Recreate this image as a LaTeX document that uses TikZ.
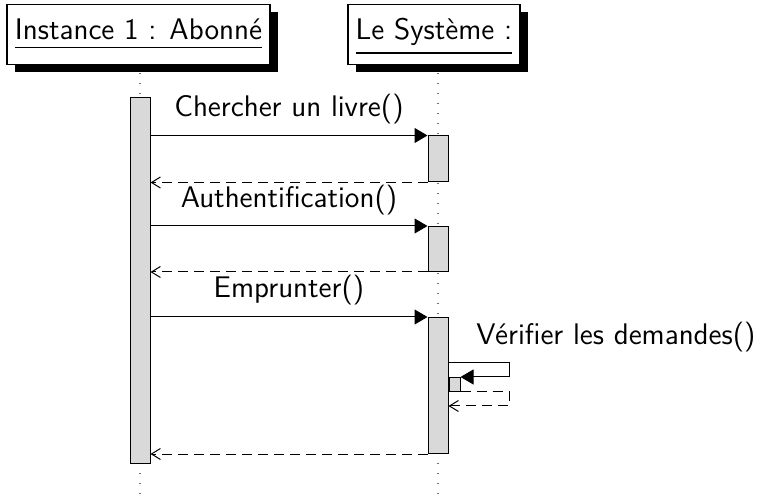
\documentclass[tikz,border=0pt]{standalone}
\usepackage{fontspec}
\usetikzlibrary{arrows.meta,shadows}
% underlined object name, rule set a little below the text
\newcommand{\objname}[1]{\vtop{\hbox{#1}\kern3.2pt\hrule height 0.9pt}}
\begin{document}
\begin{tikzpicture}[x=0.5pt,y=-0.5pt,
  font=\sffamily\fontsize{14.9}{18}\selectfont,
  obj/.style={draw=black, line width=0.6pt, fill=white, minimum height=30pt,
    text height=10pt, text depth=4.5pt, inner sep=0pt,
    drop shadow={shadow xshift=3.75pt, shadow yshift=-3.75pt, fill=black, opacity=1}},
  life/.style={draw=black!55, line width=0.6pt, dash pattern=on 0.6pt off 4.4pt},
  act/.style={draw=black, fill=black!15, line width=0.5pt, minimum width=10pt,
    inner sep=0pt, anchor=north},
  call/.style={line width=0.5pt, -{Triangle[length=6.5pt,width=7.5pt]}},
  reply/.style={line width=0.5pt, dash pattern=on 5pt off 3pt,
    -{Straight Barb[length=4.5pt,width=5.5pt,line width=0.5pt]}},
  msg/.style={anchor=base, inner sep=0pt}]
\useasboundingbox (0,0) rectangle (760,496);

% lifelines
\coordinate (top1) at (140,73);
\coordinate (bot1) at (140,496);
\coordinate (top2) at (438,73);
\coordinate (bot2) at (438,496);
\draw[life] (top1) -- (bot1);
\draw[life] (top2) -- (bot2);

% objects
\node[obj, minimum width=131.5pt] (abonne) at (138.5,34.5) {\objname{Instance 1 : Abonné}};
\node[obj, minimum width=86pt] (systeme) at (434,34.5) {\objname{Le Système :}};

% activation bars
\node[act, minimum height=183pt] (bar1) at (140,97) {};
\node[act, minimum height=23pt] (barA) at (438,135.5) {};
\node[act, minimum height=22.5pt] (barB) at (438,226) {};
\node[act, minimum height=68pt] (barC) at (438,317) {};
\node[act, minimum width=5.5pt, minimum height=7pt] (self) at (454.5,377) {};

% messages
\node[msg] (m1) at (289,117) {Chercher un livre()};
\draw[call] (bar1.east |- barA.north west) -- (barA.north west);
\draw[reply] (barA.south west) -- (bar1.east |- barA.south west);

\node[msg] (m2) at (289,207.5) {Authentification()};
\draw[call] (bar1.east |- barB.north west) -- (barB.north west);
\draw[reply] (barB.south west) -- (bar1.east |- barB.south west);

\node[msg] (m3) at (289,298) {Emprunter()};
\draw[call] (bar1.east |- barC.north west) -- (barC.north west);
\draw[reply] (barC.south west) -- (bar1.east |- barC.south west);

% self call
\node[msg] (m4) at (616,345) {Vérifier les demandes()};
\coordinate (loopA) at (509,363);
\coordinate (loopB) at (509,406);
\draw[call] (barC.east |- loopA) -- (loopA) |- (self.north east);
\draw[reply] (self.south east) -| (loopB) -- (barC.east |- loopB);
\end{tikzpicture}
\end{document}
